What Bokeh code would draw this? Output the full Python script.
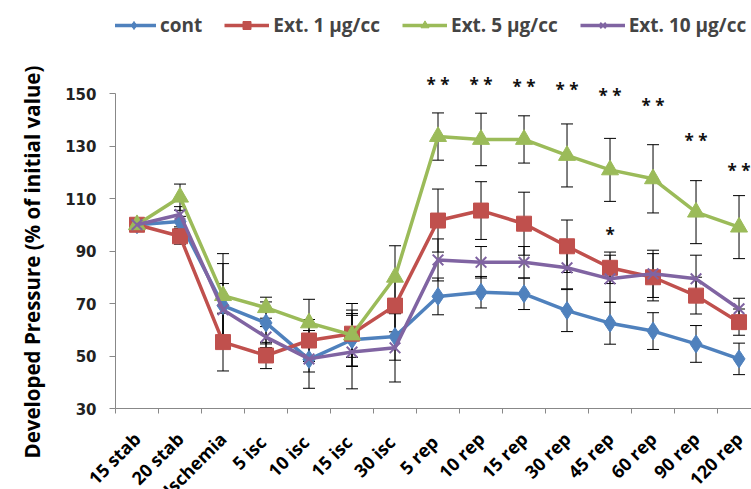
import math
from bokeh.plotting import figure
from bokeh.models import (ColumnDataSource, FixedTicker, Whisker, TeeHead, Legend, LegendItem,
                          Range1d, Title)
from bokeh.core.properties import value
from bokeh.embed import file_html
from bokeh.resources import INLINE

categories = ["15 stab", "20 stab", "Ischemia", "5  isc", "10  isc", "15  isc", "30  isc",
              "5  rep", "10 rep", "15 rep", "30 rep", "45 rep", "60 rep", "90 rep", "120 rep"]

cont = [100, 101.2, 69.2, 62.6, 48.7, 56.2, 57.4, 72.7, 74.3, 73.7, 67.3, 62.5, 59.5, 54.6, 48.9]
ext1 = [100, 95.6, 55.3, 50.2, 55.9, 58.5, 69.2, 101.6, 105.4, 100.4, 91.8, 83.6, 80.0, 73.0, 62.9]
ext5 = [100, 110.5, 73.0, 68.4, 62.6, 58.0, 80.0, 133.6, 132.5, 132.5, 126.4, 120.9, 117.5, 104.8, 99.1]
ext10 = [100, 103.9, 67.6, 57.2, 48.9, 51.5, 53.1, 86.6, 85.7, 85.7, 83.6, 79.4, 81.3, 79.4, 68.0]

cont_err = [0, 2, 16, 8, 11, 10, 9, 7, 6, 6, 8, 8, 7, 7, 6]
ext1_err = [0, 3, 11, 5, 8, 9, 10, 12, 11, 12, 10, 6, 9, 7, 5]
ext5_err = [0, 5, 16, 4, 9, 12, 12, 9, 10, 9, 12, 12, 13, 12, 12]
ext10_err = [0, 3, 10, 4, 5, 14, 13, 8, 6, 6, 8, 9, 9, 9, 4]

sig_idx = [7, 8, 9, 10, 11, 12, 13, 14, 11]
sig_y = [153.6, 153.6, 152.7, 151.6, 149.1, 145.6, 132.0, 120.6, 96.4]
sig_txt = ["* *", "* *", "* *", "* *", "* *", "* *", "* *", "* *", "*"]

y_ticks = [30, 50, 70, 90, 110, 130, 150]

series_names = ["cont", "Ext. 1 \u00b5g/cc", "Ext. 5 \u00b5g/cc", "Ext. 10 \u00b5g/cc"]
y_title = "Developed Pressure (% of initial value)"
colors = ["#4F81BD", "#C0504D", "#9BBB59", "#8064A2"]

xs = list(range(len(categories)))

p = figure(frame_width=636, frame_height=408, output_backend="svg", toolbar_location=None,
           x_range=Range1d(-0.5, 14.29), y_range=Range1d(30, 185.43),
           min_border_left=115, min_border_right=0, min_border_top=0, min_border_bottom=0)
p.outline_line_color = None
p.xgrid.grid_line_color = None
p.ygrid.grid_line_color = None
p.background_fill_color = "white"

font = "Open Sans"

# x axis: tick marks between categories, labels at category centres
p.xaxis.ticker = FixedTicker(ticks=xs, minor_ticks=[i - 0.5 for i in range(len(categories) + 1)])
p.xaxis.major_label_overrides = {i: c for i, c in enumerate(categories)}
p.xaxis.major_tick_out = 0
p.xaxis.major_tick_in = 0
p.xaxis.minor_tick_out = 5
p.xaxis.minor_tick_in = 0
p.xaxis.minor_tick_line_color = "#888888"
p.xaxis.axis_line_color = "#888888"
p.xaxis.major_label_orientation = math.pi / 4
p.xaxis.major_label_text_font = font
p.xaxis.major_label_text_font_style = "bold"
p.xaxis.major_label_text_font_size = "18px"
p.xaxis.major_label_text_color = "#000000"
p.xaxis.major_label_standoff = 22

# y axis
p.yaxis.ticker = FixedTicker(ticks=y_ticks)
p.yaxis.bounds = (30, 150)
p.yaxis.axis_line_color = "#888888"
p.yaxis.major_tick_line_color = "#888888"
p.yaxis.major_tick_out = 6
p.yaxis.major_tick_in = 0
p.yaxis.minor_tick_line_color = None
p.yaxis.major_label_text_font = "DejaVu Sans"
p.yaxis.major_label_text_font_style = "bold"
p.yaxis.major_label_text_font_size = "15px"
p.yaxis.major_label_text_color = "#222222"
p.yaxis.major_label_standoff = 13

p.add_layout(Title(text=y_title, align="left", offset=-50, standoff=30, vertical_align="top",
                   text_font=font, text_font_style="bold", text_font_size="20.5px",
                   text_color="#000000"), "left")

vals = [cont, ext1, ext5, ext10]
errs = [cont_err, ext1_err, ext5_err, ext10_err]
items = []
for k, (v, e, c, name) in enumerate(zip(vals, errs, colors, series_names)):
    src = ColumnDataSource(dict(x=xs, y=v))
    ln = p.line("x", "y", source=src, line_color=c, line_width=3.5)
    if k == 0:
        mk = p.scatter("x", "y", source=src, marker="diamond", size=18, fill_color=c, line_color=c)
    elif k == 1:
        mk = p.scatter("x", "y", source=src, marker="square", size=15, fill_color=c, line_color=c)
    elif k == 2:
        mk = p.scatter("x", "y", source=src, marker="triangle", size=17, fill_color=c, line_color=c)
    else:
        mk = p.scatter("x", "y", source=src, marker="x", size=15, line_color=c, line_width=2)
    items.append(LegendItem(label=name, renderers=[ln, mk]))

for v, e in zip(vals, errs):
    wx = [x for x in xs if e[x] > 0]
    wsrc = ColumnDataSource(dict(base=wx,
                                 upper=[v[x] + e[x] for x in wx],
                                 lower=[v[x] - e[x] for x in wx]))
    w = Whisker(base="base", upper="upper", lower="lower", source=wsrc,
                line_color="black", line_width=1,
                upper_head=TeeHead(size=12, line_color="black", line_width=1),
                lower_head=TeeHead(size=12, line_color="black", line_width=1))
    p.add_layout(w)

p.text(x=[xs[i] for i in sig_idx], y=sig_y, text=sig_txt,
       text_align="center", text_baseline="middle",
       text_font=value(font), text_font_style="bold", text_font_size="17px", text_color="#111111")

legend = Legend(items=items, orientation="horizontal", location=(-4, 370),
                label_text_font=font, label_text_font_style="bold", label_text_font_size="19px",
                glyph_width=45, glyph_height=20, label_standoff=4, spacing=22,
                padding=0, margin=0, border_line_color=None, background_fill_alpha=0)
p.add_layout(legend, "center")

open("out.html", "w").write(file_html(p, INLINE))
